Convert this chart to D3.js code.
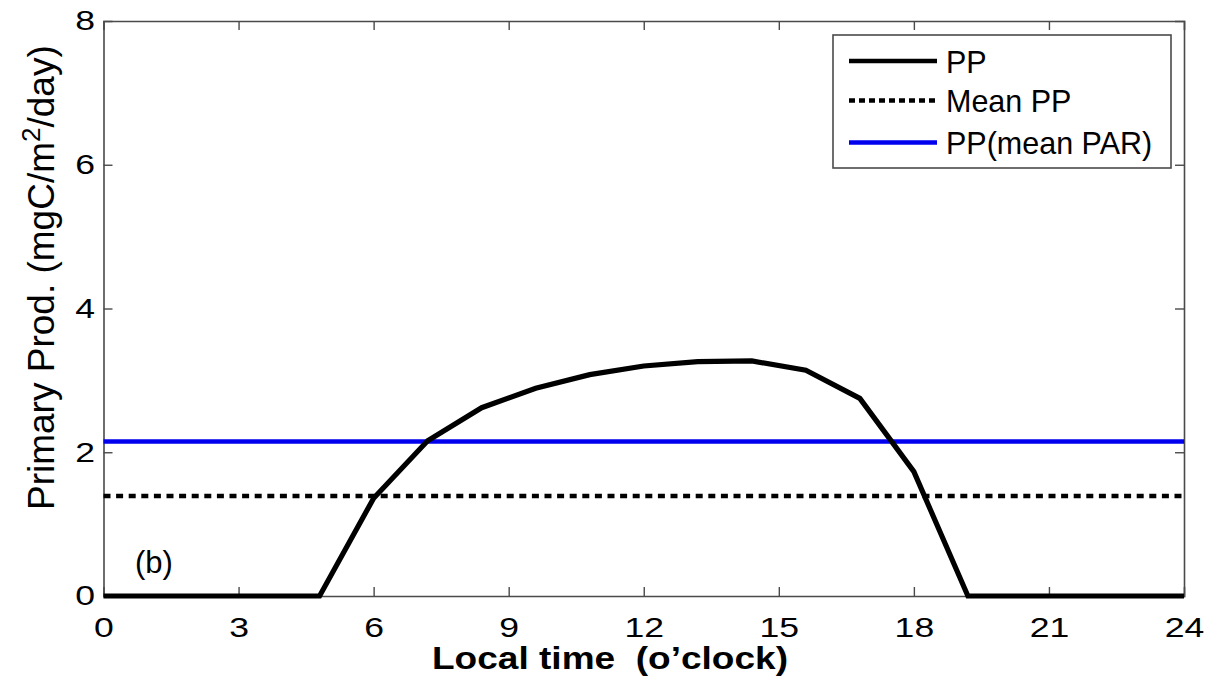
<!DOCTYPE html>
<html>
<head>
<meta charset="utf-8">
<script src="https://cdn.jsdelivr.net/npm/d3@7"></script>
<style>
  html, body { margin: 0; padding: 0; background: #fff; }
  svg { display: block; }
  text { font-family: "Liberation Sans", Arial, Helvetica, sans-serif; }
</style>
</head>
<body>
<svg id="chart" width="1207" height="696"></svg>
<script>
// Hourly grid of the diurnal cycle (local time, hours)
const hours = [0, 1.2, 2.4, 3.6, 4.8, 6.0, 7.2, 8.4, 9.6, 10.8, 12.0, 13.2, 14.4, 15.6, 16.8, 18.0, 19.2, 20.4, 21.6, 22.8, 24.0];
// Instantaneous primary production (mgC/m^2/day)
const pp = [0, 0, 0, 0, 0, 1.36, 2.16, 2.62, 2.89, 3.08, 3.20, 3.26, 3.27, 3.14, 2.75, 1.73, 0, 0, 0, 0, 0];
// Daily mean of PP and PP computed from the daily-mean PAR
const meanPP = 1.39;
const ppMeanPar = 2.15;

const xTicks = [0, 3, 6, 9, 12, 15, 18, 21, 24];
const yTicks = [0, 2, 4, 6, 8];
const legendLabels = ["PP", "Mean PP", "PP(mean PAR)"];

const svg = d3.select("#chart");
const m = { left: 103.5, right: 1184, top: 21, bottom: 596 };

const x = d3.scaleLinear().domain([0, 24]).range([m.left, m.right]);
const y = d3.scaleLinear().domain([0, 8]).range([m.bottom, m.top]);

const axisColor = "#4a4a4a";
const tickLen = 9;
const tickFont = 28;
const stretch = 1.27;   // tick numerals are drawn slightly wide

// axes: bottom/left with labels, top/right as bare ticks (boxed frame)
const gB = svg.append("g").attr("transform", `translate(0,${m.bottom})`)
  .call(d3.axisBottom(x).tickValues(xTicks).tickSize(-tickLen).tickPadding(21).tickFormat(d3.format("d")));
const gT = svg.append("g").attr("transform", `translate(0,${m.top})`)
  .call(d3.axisTop(x).tickValues(xTicks).tickSize(-tickLen).tickFormat(""));
const gL = svg.append("g").attr("transform", `translate(${m.left},0)`)
  .call(d3.axisLeft(y).tickValues(yTicks).tickSize(-tickLen).tickFormat(d3.format("d")));
const gR = svg.append("g").attr("transform", `translate(${m.right},0)`)
  .call(d3.axisRight(y).tickValues(yTicks).tickSize(-tickLen).tickFormat(""));

[gB, gT, gL, gR].forEach(g => {
  g.attr("font-family", null).attr("font-size", null);
  g.select(".domain").attr("stroke", axisColor).attr("stroke-width", 1.6);
  g.selectAll(".tick line").attr("stroke", axisColor).attr("stroke-width", 1.4);
  g.selectAll(".tick text").attr("fill", "#000").attr("font-size", tickFont);
});
// drop the end ticks that coincide with the frame
[gB, gT].forEach(g => g.selectAll(".tick line").filter(d => d === 0 || d === 24).remove());
[gL, gR].forEach(g => g.selectAll(".tick line").filter(d => d === 0 || d === 8).remove());

gB.selectAll(".tick text")
  .attr("dy", "0.71em")
  .attr("transform", `scale(${stretch},1)`);
gL.selectAll(".tick text")
  .attr("x", -8.5 / stretch)
  .attr("transform", `scale(${stretch},1)`);

const plot = svg.append("g");

// PP from mean PAR (blue)
plot.append("line")
  .attr("x1", x(0)).attr("x2", x(24))
  .attr("y1", y(ppMeanPar)).attr("y2", y(ppMeanPar))
  .attr("stroke", "#0000ee").attr("stroke-width", 4.5);

// Mean PP (dashed)
plot.append("line")
  .attr("x1", x(0)).attr("x2", x(24))
  .attr("y1", y(meanPP)).attr("y2", y(meanPP))
  .attr("stroke", "#000").attr("stroke-width", 4.5)
  .attr("stroke-dasharray", "7,5.6");

// PP curve
const line = d3.line().x((d, i) => x(hours[i])).y(d => y(d));
plot.append("path")
  .datum(pp)
  .attr("d", line)
  .attr("fill", "none")
  .attr("stroke", "#000")
  .attr("stroke-width", 5.2)
  .attr("stroke-linejoin", "miter");

// panel tag
svg.append("text")
  .attr("x", 135).attr("y", 573)
  .attr("font-size", 31)
  .text("(b)");

// legend
const lg = svg.append("g");
lg.append("rect")
  .attr("x", 833).attr("y", 35).attr("width", 338).attr("height", 133)
  .attr("fill", "#fff").attr("stroke", axisColor).attr("stroke-width", 1.6);
const legendStyles = [
  { stroke: "#000", dash: null },
  { stroke: "#000", dash: "6,4" },
  { stroke: "#0000ee", dash: null }
];
const rowY = [61, 100.5, 142.5];
legendLabels.forEach((lab, i) => {
  lg.append("line")
    .attr("x1", 849).attr("x2", 937)
    .attr("y1", rowY[i]).attr("y2", rowY[i])
    .attr("stroke", legendStyles[i].stroke)
    .attr("stroke-width", 4.5)
    .attr("stroke-dasharray", legendStyles[i].dash);
  lg.append("text")
    .attr("x", 946).attr("y", rowY[i] + 11.5)
    .attr("font-size", 30.5)
    .text(lab);
});

// y axis title with superscript
const yt = svg.append("text")
  .attr("transform", "translate(54,510) rotate(-90)")
  .attr("font-size", 37)
  .attr("text-anchor", "start");
yt.append("tspan").text("Primary Prod. (mgC/m");
yt.append("tspan").attr("font-size", 26).attr("dy", -14).text("2");
yt.append("tspan").attr("dy", 14).text("/day)");

// x axis title
svg.append("text")
  .attr("x", 610).attr("y", 669)
  .attr("text-anchor", "middle")
  .attr("font-family", "Lato, 'Open Sans', sans-serif")
  .attr("font-weight", "bold")
  .attr("font-size", 31)
  .attr("textLength", 356)
  .attr("lengthAdjust", "spacingAndGlyphs")
  .style("white-space", "pre")
  .text("Local time  (o\u2019clock)");
</script>
</body>
</html>
